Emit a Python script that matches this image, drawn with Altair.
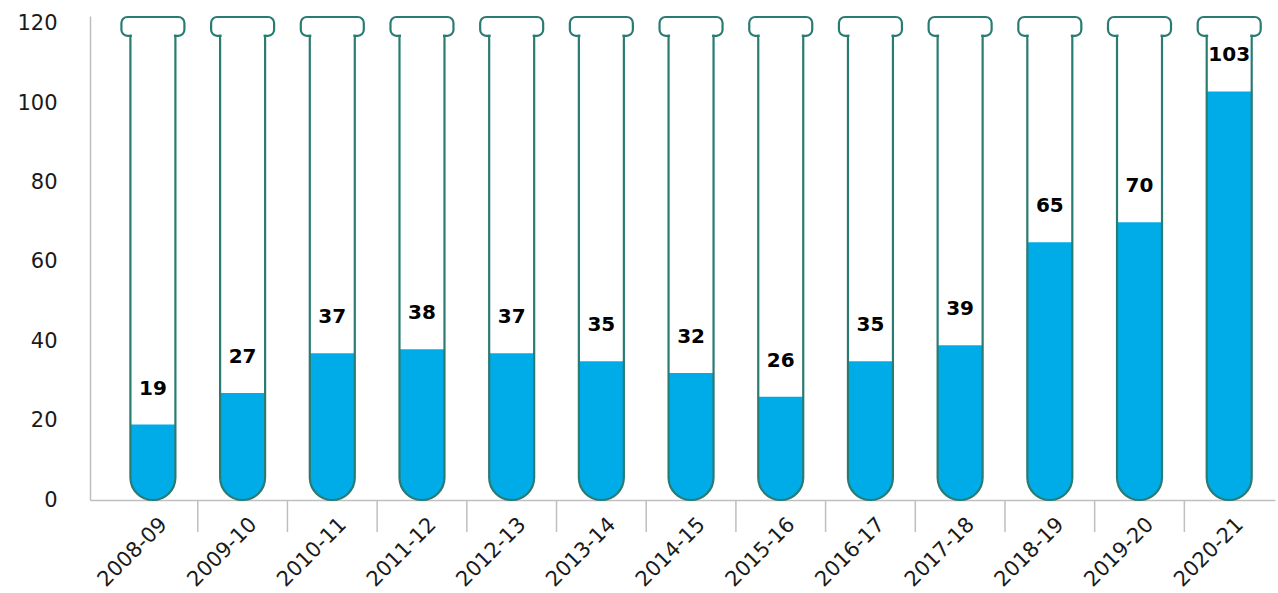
import altair as alt
import pandas as pd

# Seasons and the counts shown above each tube
seasons = ["2008-09", "2009-10", "2010-11", "2011-12", "2012-13", "2013-14", "2014-15",
           "2015-16", "2016-17", "2017-18", "2018-19", "2019-20", "2020-21"]
counts = [19, 27, 37, 38, 37, 35, 32, 26, 35, 39, 65, 70, 103]

# Y-axis tick values
y_ticks = [0, 20, 40, 60, 80, 100, 120]

df = pd.DataFrame({"season": seasons, "count": counts})

BLUE = "#00ace8"
TEAL = "#2a7b72"
AXIS_GREY = "#bfbfbf"
FONT = "DejaVu Sans"

# Tube geometry in data units (y) and pixels (width)
TUBE_W = 45
RIM_W = 63
TUBE_TOP = 117.0
RIM_TOP = 121.75
RADIUS = TUBE_W / 2

x_enc = alt.X(
    "season:N",
    scale=alt.Scale(domain=seasons, paddingInner=0, paddingOuter=0.106, align=0.95),
    axis=alt.Axis(
        title=None,
        ticks=False,
        tickSize=0,
        labelAngle=-45,
        labelAlign="right",
        labelBaseline="middle",
        labelOffset=11,
        labelPadding=21,
        labelFont=FONT,
        labelFontSize=21,
        labelColor="#1a1a1a",
        domainColor=AXIS_GREY,
        domainWidth=1.5,
        grid=False,
    ),
)
y_scale = alt.Scale(domain=[0, 122], nice=False)
y_axis = alt.Axis(
    title=None,
    values=y_ticks,
    ticks=False,
    tickSize=0,
    grid=False,
    labelFont=FONT,
    labelFontSize=21,
    labelColor="#1a1a1a",
    labelPadding=33,
    domainColor=AXIS_GREY,
    domainWidth=1.5,
)

base = alt.Chart(df)

# Rim at the mouth of each tube
rim = base.mark_bar(width=RIM_W, fill="white", stroke=TEAL, strokeWidth=2.2, cornerRadius=6).encode(
    x=x_enc,
    y=alt.Y(datum=TUBE_TOP, scale=y_scale, axis=y_axis),
    y2=alt.Y2(datum=RIM_TOP),
)

# White tube body
body = base.mark_bar(width=TUBE_W, fill="white", strokeWidth=0,
                     cornerRadiusBottomLeft=RADIUS, cornerRadiusBottomRight=RADIUS).encode(
    x=x_enc,
    y=alt.Y(datum=0, scale=y_scale),
    y2=alt.Y2(datum=TUBE_TOP),
)

# Liquid level
fill = base.mark_bar(width=TUBE_W, color=BLUE, strokeWidth=0,
                     cornerRadiusBottomLeft=RADIUS, cornerRadiusBottomRight=RADIUS).encode(
    x=x_enc,
    y=alt.Y("count:Q", scale=y_scale),
    y2=alt.Y2(datum=0),
)

# Glass outline drawn over the liquid
outline = base.mark_bar(width=TUBE_W, fill="white", fillOpacity=0, stroke=TEAL, strokeWidth=2.2,
                        cornerRadiusBottomLeft=RADIUS, cornerRadiusBottomRight=RADIUS).encode(
    x=x_enc,
    y=alt.Y(datum=0, scale=y_scale),
    y2=alt.Y2(datum=TUBE_TOP),
)

# Opens the neck where body meets rim
neck = base.mark_bar(width=TUBE_W - 3, fill="white", strokeWidth=0).encode(
    x=x_enc,
    y=alt.Y(datum=TUBE_TOP - 0.8, scale=y_scale),
    y2=alt.Y2(datum=TUBE_TOP + 0.7),
)

labels = base.mark_text(font=FONT, fontWeight="bold", fontSize=20, color="black",
                        baseline="middle", dy=-36).encode(
    x=x_enc,
    y=alt.Y("count:Q", scale=y_scale),
    text=alt.Text("count:Q"),
)

# Separators between seasons below the x axis
separators = base.transform_filter(
    alt.datum.season != seasons[0]
).mark_rule(color=AXIS_GREY, strokeWidth=1.5).encode(
    x=alt.X("season:N", bandPosition=0),
    y=alt.value(484),
    y2=alt.value(516),
)

chart = alt.layer(rim, body, fill, outline, neck, labels, separators).properties(
    width=1185,
    height=484,
    padding={"left": 90, "top": 16, "right": 3, "bottom": 93},
    autosize=alt.AutoSizeParams(type="none"),
).configure_view(stroke=None)

chart.save("out.html", embed_options={"renderer": "svg", "actions": False})
